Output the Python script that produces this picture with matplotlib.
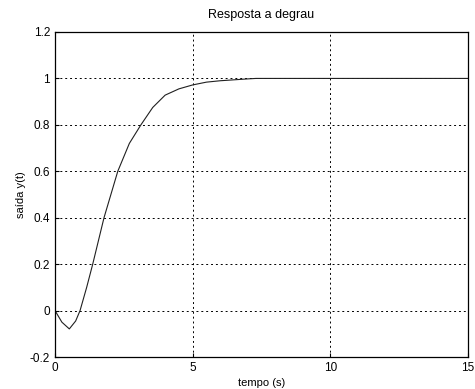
import matplotlib
matplotlib.use('Agg')
import matplotlib.pyplot as plt

plt.rcParams['font.family'] = ['Liberation Sans', 'DejaVu Sans']

tempo = [0, 0.25, 0.52, 0.75, 0.91, 1.15, 1.37, 1.78, 2.28, 2.7, 3.12, 3.55,
         4.0, 4.5, 5.0, 5.5, 6.0, 6.5, 7.0, 7.3, 15]
saida = [0, -0.05, -0.079, -0.045, 0.0, 0.1, 0.2, 0.4, 0.6, 0.72, 0.8, 0.875,
         0.928, 0.955, 0.972, 0.984, 0.99, 0.994, 0.998, 1.0, 1.0]

fig = plt.figure(figsize=(4.75, 3.89), dpi=100)
ax = fig.add_axes([55/475, 1 - 357/389, (468-55)/475, (357-32)/389])
ax.plot(tempo, saida, color='#202020', lw=0.8)

ax.set_xlim(0, 15)
ax.set_ylim(-0.2, 1.2)
ax.set_xticks([0, 5, 10, 15])
ax.set_yticks([-0.2, 0, 0.2, 0.4, 0.6, 0.8, 1, 1.2])
ax.set_yticklabels(['-0.2', '0', '0.2', '0.4', '0.6', '0.8', '1', '1.2'])
ax.grid(True, color='black', linestyle=(0, (2, 3)), linewidth=0.7)
ax.tick_params(direction='in', length=3, labelsize=8.5, colors='black')
for s in ax.spines.values():
    s.set_linewidth(0.9)

ax.set_title('Resposta a degrau', fontsize=9, pad=10)
ax.set_xlabel('tempo (s)', fontsize=8, labelpad=3)
ax.set_ylabel('saída y(t)', fontsize=8, labelpad=3)

fig.savefig('out.png', dpi=100)
